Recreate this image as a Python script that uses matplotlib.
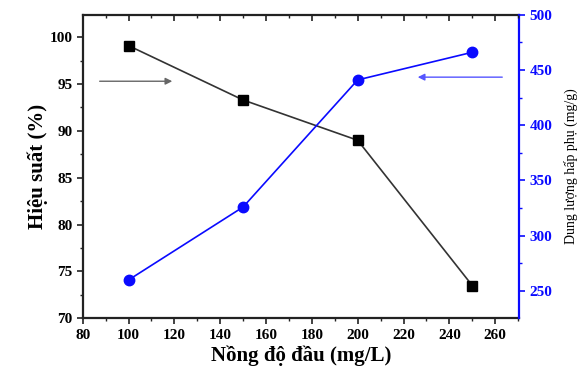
import matplotlib
matplotlib.use("Agg")
import matplotlib.pyplot as plt
from matplotlib.ticker import MultipleLocator

plt.rcParams['font.family'] = ['Liberation Serif', 'DejaVu Serif']

conc = [100, 150, 200, 250]
efficiency = [99.1, 93.3, 89.0, 73.5]
capacity = [260, 326, 441, 466]

blue = '#0a0aff'

fig = plt.figure(figsize=(5.81, 3.79), dpi=100)
ax = fig.add_axes([0.1423, 0.1601, 0.7510, 0.8011])
ax2 = ax.twinx()

ax.plot(conc, efficiency, color='#333333', lw=1.2, marker='s', ms=7,
        mfc='black', mec='black', zorder=3)
ax2.plot(conc, capacity, color=blue, lw=1.2, marker='o', ms=7.5,
         mfc=blue, mec=blue, zorder=3)

ax.set_xlim(80, 270.4)
ax.set_ylim(70, 102.4)
ax2.set_ylim(225.3, 500)

ax.xaxis.set_major_locator(MultipleLocator(20))
ax.xaxis.set_minor_locator(MultipleLocator(10))
ax.yaxis.set_major_locator(MultipleLocator(5))
ax.yaxis.set_minor_locator(MultipleLocator(2.5))
ax2.yaxis.set_major_locator(MultipleLocator(50))
ax2.yaxis.set_minor_locator(MultipleLocator(25))

for s in ['left', 'bottom', 'top']:
    ax.spines[s].set_linewidth(1.6)
    ax.spines[s].set_color('#222222')
ax2.spines['right'].set_color(blue)
ax2.spines['right'].set_linewidth(1.6)
for s in ['left', 'bottom', 'top']:
    ax2.spines[s].set_visible(False)
ax.spines['right'].set_visible(False)

ax.tick_params(axis='both', which='major', direction='out', length=4, width=1.2,
               labelsize=11, color='#222222')
ax.tick_params(axis='both', which='minor', direction='out', length=2.5, width=1.0,
               color='#222222')

# inward ticks along the top edge
top = ax.twiny()
top.set_xlim(ax.get_xlim())
top.xaxis.set_major_locator(MultipleLocator(20))
top.xaxis.set_minor_locator(MultipleLocator(10))
top.tick_params(axis='x', which='major', direction='in', length=4, width=1.2,
                labeltop=False, color='#222222')
top.tick_params(axis='x', which='minor', direction='in', length=2.5, width=1.0,
                color='#222222')
top.tick_params(axis='y', which='both', left=False, right=False,
                labelleft=False, labelright=False)
for s in top.spines.values():
    s.set_visible(False)

ax2.tick_params(axis='y', which='major', direction='out', length=4, width=1.2,
                labelsize=11, colors=blue)
ax2.tick_params(axis='y', which='minor', direction='out', length=2.5, width=1.0,
                colors=blue)

for lab in ax.get_xticklabels() + ax.get_yticklabels():
    lab.set_fontweight('bold')
for lab in ax2.get_yticklabels():
    lab.set_fontweight('bold')

ax.set_xlabel('Nồng độ đầu (mg/L)', fontsize=15, fontweight='bold', labelpad=3)
ax.set_ylabel('Hiệu suất (%)', fontsize=15, fontweight='bold', labelpad=1)
ax2.set_ylabel('Dung lượng hấp phụ (mg/g)', fontsize=10, labelpad=8)

# direction arrows pointing to each series' axis
ax.annotate('', xy=(120.3, 95.3), xytext=(86.2, 95.3),
            arrowprops=dict(arrowstyle='-|>', color='#666666', lw=1.0,
                            mutation_scale=10))
ax2.annotate('', xy=(225, 443.5), xytext=(264.3, 443.5),
             arrowprops=dict(arrowstyle='-|>', color='#5555ff', lw=1.0,
                             mutation_scale=10))

fig.savefig('out.png', dpi=100)
